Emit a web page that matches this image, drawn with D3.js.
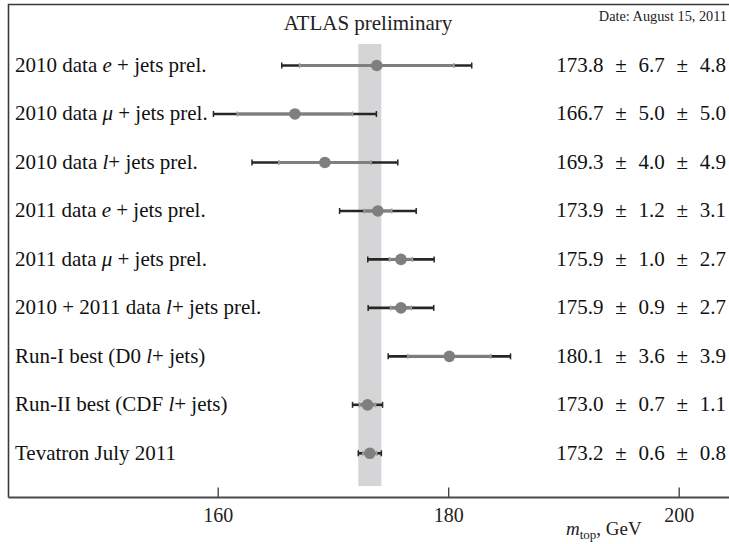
<!DOCTYPE html>
<html>
<head>
<meta charset="utf-8">
<script src="https://cdn.jsdelivr.net/npm/d3@7"></script>
<style>
  html, body { margin: 0; padding: 0; background: #fff; }
  svg { display: block; font-family: "Liberation Serif", "DejaVu Serif", serif; }
</style>
</head>
<body>
<svg id="chart" width="729" height="544"></svg>
<script>
// ── Data ─────────────────────────────────────────────
const labelPre  = ['2010 data ', '2010 data ', '2010 data ', '2011 data ', '2011 data ',
                   '2010 + 2011 data ', 'Run-I best (D0 ', 'Run-II best (CDF ', 'Tevatron July 2011'];
const lepton    = ['e', 'μ', 'l', 'e', 'μ', 'l', 'l', 'l', ''];
const labelPost = [' + jets prel.', ' + jets prel.', '+ jets prel.', ' + jets prel.', ' + jets prel.',
                   '+ jets prel.', '+ jets)', '+ jets)', ''];
const mtop = [173.8, 166.7, 169.3, 173.9, 175.9, 175.9, 180.1, 173.0, 173.2];
const stat = [6.7, 5.0, 4.0, 1.2, 1.0, 0.9, 3.6, 0.7, 0.6];
const syst = [4.8, 5.0, 4.9, 3.1, 2.7, 2.7, 3.9, 1.1, 0.8];
const band = [172.2, 174.2];           // Tevatron combination, total uncertainty
const xTicks = [160, 180, 200];

// ── Layout ───────────────────────────────────────────
const W = 729;
const frame = { left: 8.5, top: 4.5, bottom: 497.5 };
const svg = d3.select('#chart');

const x = d3.scaleLinear().domain([160, 200]).range([217.7, 678.7]);
const rows = d3.range(mtop.length);
const y = d3.scalePoint().domain(rows).range([65.5, 453.3]);

const DARK = '#262626', GREY = '#7f7f7f';

// band
svg.append('rect')
  .attr('x', x(band[0])).attr('width', x(band[1]) - x(band[0]))
  .attr('y', 44).attr('height', 486 - 44)
  .attr('fill', '#d5d5d7');

// frame (left + top) and axis
svg.append('path')
  .attr('d', `M${frame.left},${frame.bottom}V${frame.top}H${W}`)
  .attr('fill', 'none').attr('stroke', '#3a3a3a').attr('stroke-width', 1.6);

const axis = svg.append('g')
  .attr('transform', `translate(0,${frame.bottom})`)
  .call(d3.axisBottom(x).tickValues(xTicks).tickSizeInner(-10).tickSizeOuter(0).tickPadding(10));
axis.select('.domain').remove();
axis.selectAll('.tick line').attr('stroke', '#3a3a3a').attr('stroke-width', 1.3);
axis.selectAll('.tick text')
  .attr('fill', '#222').attr('font-size', 20)
  .attr('font-family', '"Liberation Serif", serif');
svg.append('line')
  .attr('x1', frame.left).attr('x2', W)
  .attr('y1', frame.bottom).attr('y2', frame.bottom)
  .attr('stroke', '#4a4a4a').attr('stroke-width', 2);

// axis title
const xt = svg.append('text').attr('x', 566).attr('y', 535)
  .attr('font-size', 19).attr('fill', '#222');
xt.append('tspan').attr('font-style', 'italic').text('m');
xt.append('tspan').attr('font-size', 13).attr('dy', 4).text('top');
xt.append('tspan').attr('dy', -4).text(', GeV');

// titles
svg.append('text').attr('x', 368).attr('y', 30).attr('text-anchor', 'middle')
  .attr('font-size', 21).attr('fill', '#222').text('ATLAS preliminary');
svg.append('text').attr('x', 727).attr('y', 21).attr('text-anchor', 'end')
  .attr('font-size', 14.3).attr('fill', '#222').text('Date: August 15, 2011');

// row labels and values
rows.forEach(i => {
  const t = svg.append('text').attr('x', 15).attr('y', y(i) + 6.5)
    .attr('font-size', 21).attr('fill', '#111');
  t.append('tspan').text(labelPre[i]);
  if (lepton[i]) t.append('tspan').attr('font-style', 'italic').text(lepton[i]);
  if (labelPost[i]) t.append('tspan').text(labelPost[i]);

  svg.append('text').attr('x', 726).attr('y', y(i) + 6.5).attr('text-anchor', 'end')
    .attr('font-size', 21).attr('word-spacing', 6.5).attr('fill', '#111')
    .text(`${mtop[i].toFixed(1)} ± ${stat[i].toFixed(1)} ± ${syst[i].toFixed(1)}`);
});

// ── Error bars ───────────────────────────────────────
const tot = rows.map(i => Math.sqrt(stat[i] ** 2 + syst[i] ** 2));
const g = svg.append('g');

rows.forEach(i => {
  const cy = y(i);
  // total uncertainty
  g.append('line')
    .attr('x1', x(mtop[i] - tot[i])).attr('x2', x(mtop[i] + tot[i]))
    .attr('y1', cy).attr('y2', cy)
    .attr('stroke', DARK).attr('stroke-width', 2.6);
  [mtop[i] - tot[i], mtop[i] + tot[i]].forEach(v => g.append('line')
    .attr('x1', x(v)).attr('x2', x(v)).attr('y1', cy - 3).attr('y2', cy + 3)
    .attr('stroke', DARK).attr('stroke-width', 1.5));
  // statistical
  g.append('line')
    .attr('x1', x(mtop[i] - stat[i])).attr('x2', x(mtop[i] + stat[i]))
    .attr('y1', cy).attr('y2', cy)
    .attr('stroke', GREY).attr('stroke-width', 3);
  [mtop[i] - stat[i], mtop[i] + stat[i]].forEach(v => g.append('line')
    .attr('x1', x(v)).attr('x2', x(v)).attr('y1', cy - 2.5).attr('y2', cy + 2.5)
    .attr('stroke', '#a0a0a0').attr('stroke-width', 1.5));
  g.append('circle')
    .attr('cx', x(mtop[i])).attr('cy', cy).attr('r', 5.8)
    .attr('fill', GREY);
});
</script>
</body>
</html>
